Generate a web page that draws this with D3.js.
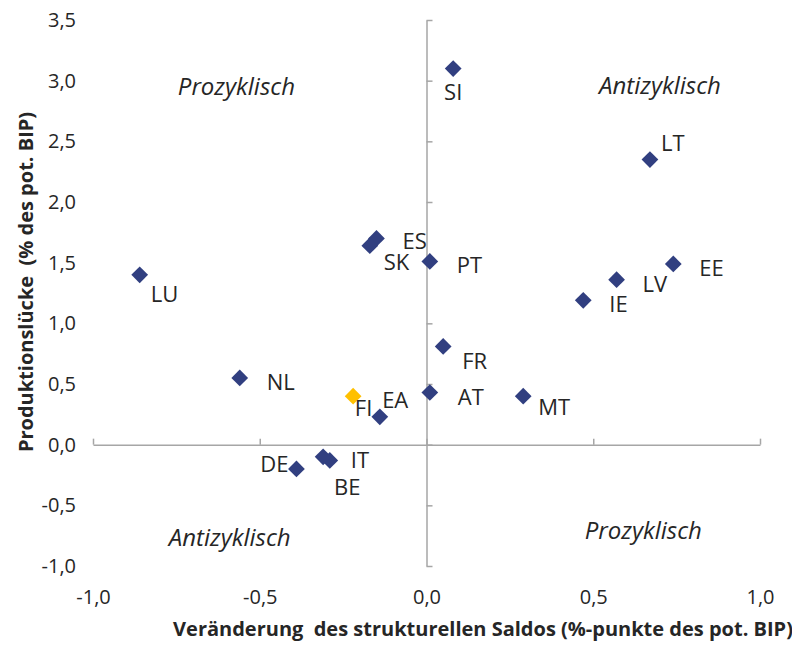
<!DOCTYPE html>
<html>
<head>
<meta charset="utf-8">
<script src="https://cdn.jsdelivr.net/npm/d3@7"></script>
<style>
  body { margin: 0; background: #fff; }
  svg text { font-family: "Open Sans", Lato, sans-serif; fill: #262626; white-space: pre; }
</style>
</head>
<body>
<svg id="chart" width="792" height="645"></svg>
<script>
// country codes and values
const countries = ["SI", "LT", "EE", "LV", "IE", "ES", "SK", "PT", "LU", "FR", "NL", "EA", "FI", "AT", "MT", "DE", "IT", "BE"]
const saldoChange = [0.08, 0.67, 0.74, 0.57, 0.47, -0.15, -0.17, 0.01, -0.86, 0.05, -0.56, -0.22, -0.14, 0.01, 0.29, -0.39, -0.29, -0.31]
const outputGap = [3.10, 2.35, 1.49, 1.36, 1.19, 1.70, 1.64, 1.51, 1.40, 0.81, 0.55, 0.40, 0.23, 0.43, 0.40, -0.20, -0.13, -0.10]
const highlighted = ["EA"]

const xTicks = [-1.0, -0.5, 0.0, 0.5, 1.0]
const yTicks = [-1.0, -0.5, 0.0, 0.5, 1.0, 1.5, 2.0, 2.5, 3.0, 3.5]

const quadrantLabels = [
  { text: "Prozyklisch", x: -0.57, y: 2.95 },
  { text: "Antizyklisch", x: 0.70, y: 2.96 },
  { text: "Antizyklisch", x: -0.59, y: -0.77 },
  { text: "Prozyklisch", x: 0.65, y: -0.71 }
]

// label offsets in px from each marker [dx, dy, anchor]
const labelOffset = {
  SI: [0, 31, "middle"], LT: [11, -9, "start"], EE: [26, 12, "start"],
  LV: [26, 12, "start"], IE: [26, 12, "start"], ES: [26, 11, "start"],
  SK: [14, 24, "start"], PT: [27, 12, "start"], LU: [11, 27, "start"],
  FR: [19, 23, "start"], NL: [27, 12, "start"], EA: [29, 12, "start"],
  FI: [-25, -1, "start"], AT: [28, 13, "start"], MT: [15, 19, "start"],
  DE: [-8, 3, "end"], IT: [21, 8, "start"], BE: [11, 38, "start"]
}

const points = countries.map((c, i) => ({ id: c, x: saldoChange[i], y: outputGap[i] }))

const svg = d3.select("#chart")
const x = d3.scaleLinear().domain([-1, 1]).range([93, 760])
const y = d3.scaleLinear().domain([-1, 3.5]).range([566, 20])
const axisColor = "#a6a6a6"
const commaFormat = d => d3.format(".1f")(d).replace(".", ",").replace("\u2212", "-")

// tick labels
const yLabels = svg.append("g")
  .attr("transform", "translate(76,0)")
  .call(d3.axisLeft(y).tickValues(yTicks).tickSize(0).tickPadding(0).tickFormat(commaFormat))
yLabels.select(".domain").remove()
yLabels.selectAll("text").style("font-size", "20px").style("font-family", null)

const xLabels = svg.append("g")
  .attr("transform", "translate(0,590)")
  .call(d3.axisBottom(x).tickValues(xTicks).tickSize(0).tickPadding(0).tickFormat(commaFormat))
xLabels.select(".domain").remove()
xLabels.selectAll("text").style("font-size", "20px").style("font-family", null)

// crossing axes at zero
svg.append("g")
  .attr("transform", `translate(0,${y(0)})`)
  .call(d3.axisTop(x).tickValues(xTicks).tickSize(6).tickSizeOuter(0).tickFormat(""))
svg.append("g")
  .attr("transform", `translate(${x(0)},0)`)
  .call(d3.axisRight(y).tickValues(yTicks).tickSize(6).tickSizeOuter(0).tickFormat(""))
svg.selectAll(".domain, .tick line").attr("stroke", axisColor).attr("stroke-width", 1.5)

// quadrant captions
svg.append("g").selectAll("text")
  .data(quadrantLabels)
  .join("text")
  .attr("x", d => x(d.x))
  .attr("y", d => y(d.y))
  .attr("text-anchor", "middle")
  .attr("dy", "0.35em")
  .style("font-size", "24px")
  .style("font-style", "italic")
  .text(d => d.text)

// markers
const diamond = d3.symbol(d3.symbolSquare, 140)
svg.append("g").selectAll("path")
  .data(points)
  .join("path")
  .attr("d", diamond)
  .attr("transform", d => `translate(${x(d.x)},${y(d.y)}) rotate(45)`)
  .attr("fill", d => highlighted.includes(d.id) ? "#ffc000" : "#313f80")

// country labels
svg.append("g").selectAll("text")
  .data(points)
  .join("text")
  .attr("x", d => x(d.x) + labelOffset[d.id][0])
  .attr("y", d => y(d.y) + labelOffset[d.id][1])
  .attr("text-anchor", d => labelOffset[d.id][2])
  .style("font-size", "22px")
  .text(d => d.id)

// axis titles
svg.append("text")
  .attr("x", 483)
  .attr("y", 636)
  .attr("text-anchor", "middle")
  .style("font-size", "20px")
  .style("font-weight", "bold")
  .text("Veränderung  des strukturellen Saldos (%-punkte des pot. BIP)")

svg.append("text")
  .attr("transform", "translate(33,282) rotate(-90)")
  .attr("text-anchor", "middle")
  .style("font-size", "20px")
  .style("font-weight", "bold")
  .text("Produktionslücke  (% des pot. BIP)")
</script>
</body>
</html>
